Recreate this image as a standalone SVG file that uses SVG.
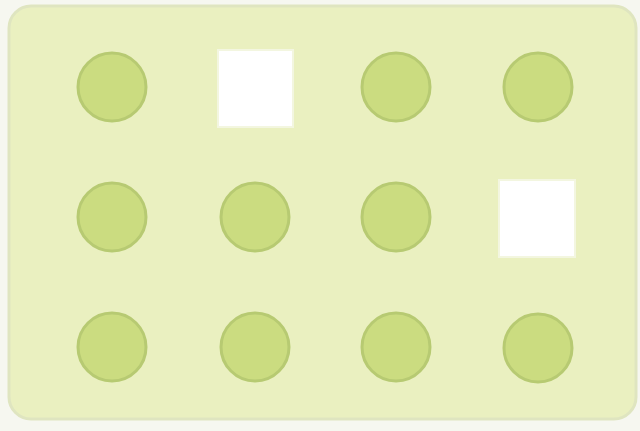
<svg xmlns="http://www.w3.org/2000/svg" width="640" height="431" viewBox="0 0 640 431">
<style>
.dot{fill:#cbdc80;stroke:#b7ca72;stroke-width:3}
.sq{fill:#ffffff;stroke:#f3f6e0;stroke-width:2}
</style>
<rect width="640" height="431" fill="#f6f7f0"/>
<g id="panel"><rect x="9" y="6" width="627" height="413" rx="22" fill="#eaf0c0" stroke="#dfe5c0" stroke-width="3"/></g>
<g id="n1"><circle class="dot" cx="112" cy="87" r="34"/></g>
<g id="n2"><rect class="sq" x="218" y="50" width="75" height="77"/></g>
<g id="n3"><circle class="dot" cx="396" cy="87" r="34"/></g>
<g id="n4"><circle class="dot" cx="538" cy="87" r="34"/></g>
<g id="n5"><circle class="dot" cx="112" cy="217" r="34"/></g>
<g id="n6"><circle class="dot" cx="255" cy="217" r="34"/></g>
<g id="n7"><circle class="dot" cx="396" cy="217" r="34"/></g>
<g id="n8"><rect class="sq" x="499" y="180" width="76" height="77"/></g>
<g id="n9"><circle class="dot" cx="112" cy="347" r="34"/></g>
<g id="n10"><circle class="dot" cx="255" cy="347" r="34"/></g>
<g id="n11"><circle class="dot" cx="396" cy="347" r="34"/></g>
<g id="n12"><circle class="dot" cx="538" cy="348" r="34"/></g>
<g id="connectors"/>
</svg>
